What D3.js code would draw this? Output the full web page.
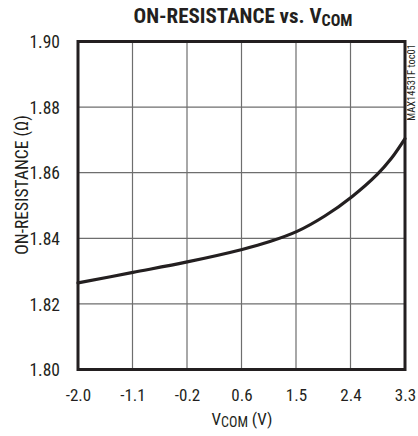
<!DOCTYPE html>
<html><head><meta charset="utf-8">
<script src="https://cdn.jsdelivr.net/npm/d3@7/dist/d3.min.js"></script>
<style>
body{margin:0;background:#fff;}
text{font-family:"Liberation Sans Narrow","Arial Narrow","Roboto Condensed",sans-serif;fill:#231f20;}
</style></head>
<body><svg id="c" width="418" height="436"></svg>
<script>
const xTickValues = [-2.0, -1.1167, -0.2333, 0.65, 1.5333, 2.4167, 3.3];
const xTickLabels = ["-2.0","-1.1","-0.2","0.6","1.5","2.4","3.3"];
const yTickValues = [1.80, 1.82, 1.84, 1.86, 1.88, 1.90];
const yTickLabels = ["1.80","1.82","1.84","1.86","1.88","1.90"];
const vcom = [-2.0, -1.11, -0.23, 0.66, 1.11, 1.55, 2.00, 2.44, 2.85, 3.08, 3.3];
const ron  = [1.8264, 1.8296, 1.8328, 1.8366, 1.8390, 1.8421, 1.8468, 1.8527, 1.8595, 1.8644, 1.8704];

const svg = d3.select("#c");
const L=78, R=405, T=41.5, B=369.5;
const x = d3.scaleLinear().domain([-2.0, 3.3]).range([L, R]);
const y = d3.scaleLinear().domain([1.80, 1.90]).range([B, T]);

// grid
svg.append("g").selectAll("line").data(xTickValues.slice(1,-1)).join("line")
  .attr("x1", d=>x(d)).attr("x2", d=>x(d)).attr("y1", T).attr("y2", B)
  .attr("stroke", "#6e6e6e").attr("stroke-width", 1.2);
svg.append("g").selectAll("line").data(yTickValues.slice(1,-1)).join("line")
  .attr("y1", d=>y(d)).attr("y2", d=>y(d)).attr("x1", L).attr("x2", R)
  .attr("stroke", "#6e6e6e").attr("stroke-width", 1.2);

// curve
const line = d3.line().x((d,i)=>x(vcom[i])).y(d=>y(d)).curve(d3.curveCatmullRom.alpha(0.5));
svg.append("path").datum(ron).attr("d", line).attr("fill","none")
  .attr("stroke","#231f20").attr("stroke-width",3.2).attr("stroke-linecap","round");

// frame
svg.append("rect").attr("x", L).attr("y", T).attr("width", R-L).attr("height", B-T)
  .attr("fill","none").attr("stroke","#231f20").attr("stroke-width",3);

// axes labels via d3 axes
const xAxis = d3.axisBottom(x).tickValues(xTickValues).tickSize(0).tickPadding(0)
  .tickFormat((d,i)=>xTickLabels[i]);
const gx = svg.append("g").attr("transform",`translate(0,${B+31})`).call(xAxis);
gx.select(".domain").remove();
gx.selectAll("text").attr("font-size",17).attr("dy",0).attr("font-family",null).attr("fill",null);

const yAxis = d3.axisLeft(y).tickValues(yTickValues).tickSize(0).tickPadding(0)
  .tickFormat((d,i)=>yTickLabels[i]);
const gy = svg.append("g").attr("transform",`translate(${L-18},0)`).call(yAxis);
gy.select(".domain").remove();
gy.selectAll("text").attr("font-size",17.5).attr("dy","0.35em").attr("font-family",null).attr("fill",null);

// title
const title = svg.append("text").attr("x", 243).attr("y", 23).attr("text-anchor","middle")
  .attr("font-size",21).attr("font-weight","bold");
title.append("tspan").text("ON-RESISTANCE vs. V");
title.append("tspan").attr("font-size",16).attr("dy",3).text("COM");

// x label
const xl = svg.append("text").attr("x", 242).attr("y", 425).attr("text-anchor","middle").attr("font-size",17);
xl.append("tspan").text("V");
xl.append("tspan").attr("font-size",14).attr("dy",2).text("COM");
xl.append("tspan").attr("dy",-2).text(" (V)");

// y label
svg.append("text").attr("transform","translate(28,185) rotate(-90)").attr("text-anchor","middle")
  .attr("font-size",17.5).text("ON-RESISTANCE (Ω)");

// side code
svg.append("text").attr("transform","translate(415,44) rotate(-90)").attr("text-anchor","end")
  .attr("font-size",10.5).attr("fill","#666").text("MAX14531F toc01");
</script></body></html>
